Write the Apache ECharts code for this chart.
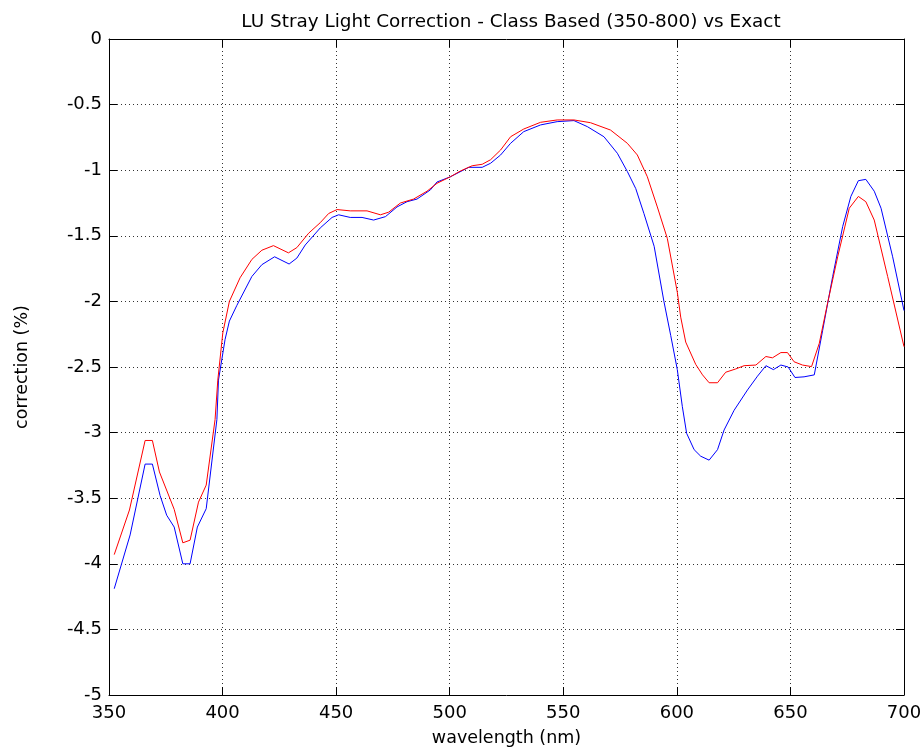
<!DOCTYPE html>
<html>
<head>
<meta charset="utf-8">
<script src="https://cdn.jsdelivr.net/npm/echarts@6/dist/echarts.min.js"></script>
<style>
html,body{margin:0;padding:0;background:#fff;}
#chart{width:924px;height:748px;}
</style>
</head>
<body>
<div id="chart"></div>
<script>
// Class Based (red) series
const redWavelength = [352.3,359,365.9,369.1,372.2,378.7,382.5,385.7,389.4,392.8,396.7,397.9,400.1,403.0,407.7,412.9,417.3,422.4,429.0,432.7,437.9,443.0,446.7,450.4,456.2,463.6,469.5,473.1,478.3,484.1,490.0,494.4,500.3,504.7,509.9,514.3,518.0,522.4,526.8,532.6,540.0,547.3,554.7,562.0,570.8,578.2,582.6,587.0,591.4,595.8,600.2,601.7,603.9,608.3,611.3,614.2,617.9,621.5,625.9,629.6,634.8,639.2,642.1,645.8,648.7,651.6,655.3,659.3,662.7,666.4,670.8,675.9,679.9,683.2,686.9,692.8,700];
const redCorrection = [-3.93,-3.59,-3.06,-3.06,-3.30,-3.585,-3.84,-3.82,-3.53,-3.40,-2.90,-2.60,-2.24,-2.00,-1.82,-1.68,-1.61,-1.575,-1.63,-1.59,-1.48,-1.40,-1.33,-1.30,-1.31,-1.31,-1.34,-1.32,-1.25,-1.22,-1.16,-1.10,-1.05,-1.006,-0.966,-0.955,-0.92,-0.846,-0.745,-0.686,-0.635,-0.617,-0.617,-0.638,-0.694,-0.795,-0.884,-1.05,-1.28,-1.52,-1.93,-2.12,-2.31,-2.48,-2.56,-2.62,-2.62,-2.54,-2.515,-2.49,-2.485,-2.42,-2.43,-2.39,-2.39,-2.46,-2.485,-2.497,-2.32,-2.01,-1.66,-1.29,-1.20,-1.24,-1.38,-1.81,-2.345];
// Exact (blue) series
const blueWavelength = [352.3,359.3,365.9,369.1,372.5,375.4,378.7,382.5,385.7,388.9,392.8,397.5,398.2,401.1,403.0,406.3,412.9,417.3,422.9,429.3,432.7,436.4,443.0,448.2,451.1,456.2,461.4,466.5,471.7,476.8,481.2,485.6,491.5,494.4,500.3,508.4,514.3,518.0,522.4,526.8,532.6,540.0,547.3,554.7,560.6,567.9,573.8,578.2,581.9,585.5,590.0,594.3,597.3,600.2,602.4,604.3,607.6,610.5,614.2,617.9,620.8,625.2,631.1,635.5,639.2,642.5,645.8,649.0,652.0,656.0,660.5,664.2,668.6,673.0,676.6,679.9,683.2,686.9,689.9,695.0,700];
const blueCorrection = [-4.19,-3.78,-3.24,-3.24,-3.48,-3.63,-3.72,-4.0,-4.0,-3.72,-3.58,-2.90,-2.60,-2.29,-2.15,-2.03,-1.81,-1.72,-1.66,-1.715,-1.67,-1.57,-1.44,-1.36,-1.34,-1.36,-1.36,-1.38,-1.354,-1.28,-1.24,-1.22,-1.15,-1.09,-1.05,-0.978,-0.978,-0.947,-0.884,-0.795,-0.706,-0.655,-0.630,-0.622,-0.668,-0.745,-0.871,-1.01,-1.14,-1.33,-1.58,-2.00,-2.26,-2.52,-2.80,-3.005,-3.13,-3.18,-3.21,-3.13,-2.98,-2.83,-2.675,-2.57,-2.49,-2.52,-2.485,-2.50,-2.58,-2.575,-2.56,-2.22,-1.81,-1.43,-1.20,-1.08,-1.07,-1.16,-1.29,-1.66,-2.07];

const titleText = 'LU Stray Light Correction - Class Based (350-800) vs Exact';
const xName = 'wavelength (nm)';
const yName = 'correction (%)';

const zip = (xs, ys) => xs.map((x, i) => [x, ys[i]]);
const FONT = 'DejaVu Sans, Liberation Sans, sans-serif';
const gridDot = { show: true, lineStyle: { color: '#333', width: 1, type: [1, 3] } };
const tick = { show: true, inside: true, length: 8, lineStyle: { color: '#000' } };
const line = { show: true, onZero: false, lineStyle: { color: '#000', width: 1 } };

const chart = echarts.init(document.getElementById('chart'), null, { renderer: 'canvas' });
chart.setOption({
  animation: false,
  backgroundColor: '#fff',
  title: {
    text: titleText, left: 506, textAlign: 'center', top: 8,
    textStyle: { fontFamily: FONT, fontSize: 18.4, fontWeight: 'normal', color: '#000' }
  },
  grid: { left: 109, right: 20, top: 39, bottom: 53, containLabel: false, outerBoundsMode: 'none' },
  xAxis: [{
    type: 'value', min: 350, max: 700, interval: 50,
    name: xName, nameLocation: 'middle', nameGap: 34,
    nameTextStyle: { fontFamily: FONT, fontSize: 17.5, color: '#000' },
    axisLine: line, axisTick: tick, splitLine: gridDot,
    axisLabel: { fontFamily: FONT, fontSize: 18, color: '#000', margin: 9 }
  }, {
    type: 'value', position: 'top', min: 350, max: 700, interval: 50,
    axisLine: line, axisTick: tick, splitLine: { show: false }, axisLabel: { show: false }
  }],
  yAxis: [{
    type: 'value', min: -5, max: 0, interval: 0.5,
    name: yName, nameLocation: 'middle', nameGap: 78, nameRotate: 90,
    nameTextStyle: { fontFamily: FONT, fontSize: 17.5, color: '#000' },
    axisLine: line, axisTick: tick, splitLine: gridDot,
    axisLabel: { fontFamily: FONT, fontSize: 18, color: '#000', margin: 7 }
  }, {
    type: 'value', position: 'right', min: -5, max: 0, interval: 0.5,
    axisLine: line, axisTick: tick, splitLine: { show: false }, axisLabel: { show: false }
  }],
  series: [{
    name: 'Exact', type: 'line', data: zip(blueWavelength, blueCorrection),
    showSymbol: false, symbol: 'none', lineStyle: { color: '#0000ff', width: 1 }, z: 3
  }, {
    name: 'Class Based', type: 'line', data: zip(redWavelength, redCorrection),
    showSymbol: false, symbol: 'none', lineStyle: { color: '#ff0000', width: 1 }, z: 4
  }]
});
</script>
</body>
</html>
